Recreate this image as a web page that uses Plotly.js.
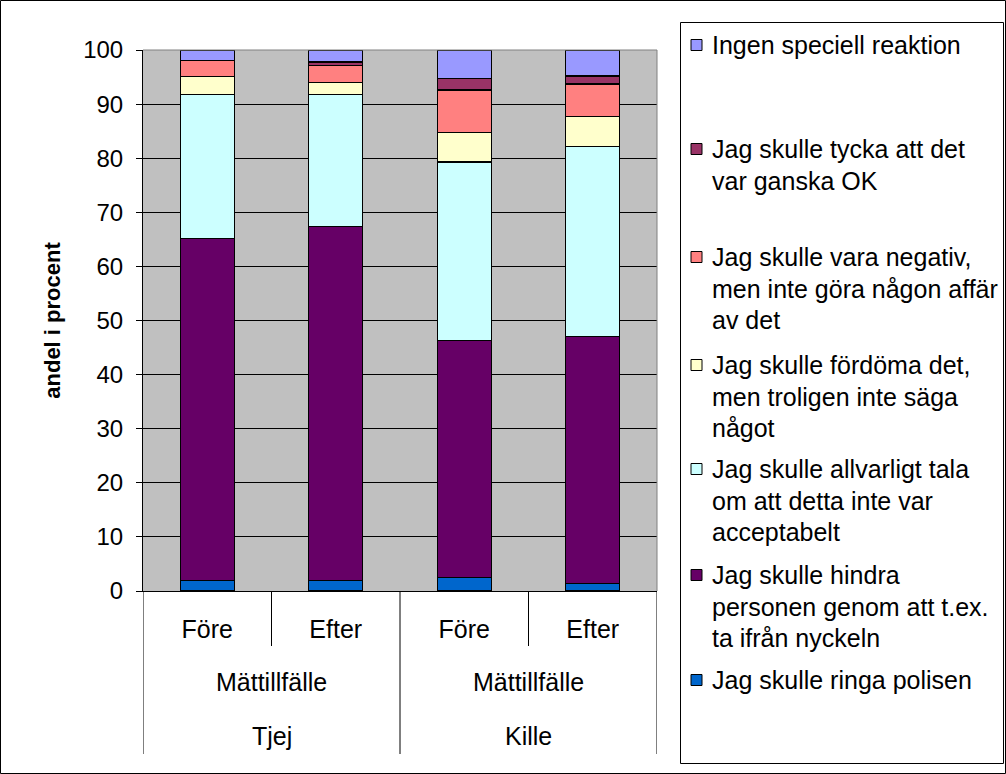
<!DOCTYPE html>
<html>
<head>
<meta charset="utf-8">
<script src="https://cdn.plot.ly/plotly-3.0.1.min.js"></script>
<style>
  html, body { margin: 0; padding: 0; background: #ffffff; }
  #chart { width: 1006px; height: 774px; }
</style>
</head>
<body>
<div id="chart"></div>
<script>
// Category levels (bottom table)
const timeLabels = ['Före', 'Efter', 'Före', 'Efter'];
const measureLabels = ['Mättillfälle', 'Mättillfälle'];
const genderLabels = ['Tjej', 'Kille'];

// Series, bottom to top of each stack (percent)
const ringaPolisen = [2.0, 2.0, 2.5, 1.4];
const hindraPersonen = [63.2, 65.4, 43.8, 45.6];
const allvarligtTala = [26.6, 24.4, 33.0, 35.1];
const fordoma = [3.3, 2.2, 5.5, 5.6];
const negativ = [3.0, 3.2, 7.8, 6.0];
const ganskaOK = [0.0, 0.6, 2.2, 1.5];
const ingenReaktion = [1.9, 2.2, 5.2, 4.8];

const seriesNames = [
    'Jag skulle ringa polisen',
    'Jag skulle hindra\npersonen genom att t.ex.\nta ifrån nyckeln',
    'Jag skulle allvarligt tala\nom att detta inte var\nacceptabelt',
    'Jag skulle fördöma det,\nmen troligen inte säga\nnågot',
    'Jag skulle vara negativ,\nmen inte göra någon affär\nav det',
    'Jag skulle tycka att det\nvar ganska OK',
    'Ingen speciell reaktion'
];
const seriesValues = [ringaPolisen, hindraPersonen, allvarligtTala, fordoma, negativ, ganskaOK, ingenReaktion];
const seriesColors = ['#0066CC', '#660066', '#CCFFFF', '#FFFFCC', '#FF8080', '#993366', '#9999FF'];

const FONT = 'Liberation Sans, Arial, sans-serif';

// plot area in pixels
const PL = 143, PR = 657, PT = 50, PB = 591;
const W = 1006, H = 774;
const px2x = (px) => (px - PL) / (PR - PL);
const py2y = (py) => (PB - py) / (PB - PT);

const xs = timeLabels.map((_, i) => i);

const traces = seriesValues.map((vals, i) => ({
    type: 'bar',
    x: xs,
    y: vals,
    name: seriesNames[i],
    width: 0.42,
    marker: { color: seriesColors[i], line: { color: '#000000', width: 1.2 } },
    showlegend: false,
    hoverinfo: 'y+name'
}));

const shapes = [];
const annotations = [];

// outer chart border
shapes.push({ type: 'rect', xref: 'paper', yref: 'paper',
    x0: px2x(0.5), x1: px2x(W - 0.5), y0: py2y(H - 0.5), y1: py2y(0.5),
    line: { color: '#000000', width: 1 } });

// plot area top/right border (grey)
shapes.push({ type: 'line', xref: 'paper', yref: 'paper', x0: 0, x1: 1, y0: 1, y1: 1,
    line: { color: '#808080', width: 1 } });
shapes.push({ type: 'line', xref: 'paper', yref: 'paper', x0: 1, x1: 1, y0: 0, y1: 1,
    line: { color: '#808080', width: 1 } });

// category table dividers
const innerBottom = py2y(646), outerBottom = py2y(754);
for (let k = 0; k <= timeLabels.length; k++) {
    const full = (k % 2 === 0);
    shapes.push({ type: 'line', xref: 'x', yref: 'paper',
        x0: k - 0.5, x1: k - 0.5, y0: 0, y1: full ? outerBottom : innerBottom,
        line: { color: '#000000', width: 1 } });
}

// Mättillfälle and Tjej/Kille rows
measureLabels.forEach((t, g) => {
    annotations.push({ xref: 'x', yref: 'paper', x: g * 2 + 0.5, y: py2y(682),
        text: t, showarrow: false, font: { family: FONT, size: 25, color: '#000' },
        xanchor: 'center', yanchor: 'middle' });
});
genderLabels.forEach((t, g) => {
    annotations.push({ xref: 'x', yref: 'paper', x: g * 2 + 0.5, y: py2y(736),
        text: t, showarrow: false, font: { family: FONT, size: 25, color: '#000' },
        xanchor: 'center', yanchor: 'middle' });
});

// legend box
shapes.push({ type: 'rect', xref: 'paper', yref: 'paper',
    x0: px2x(680.5), x1: px2x(1003.5), y0: py2y(763.5), y1: py2y(22.5),
    line: { color: '#000000', width: 1 }, fillcolor: '#ffffff' });

// legend entries (top entry = last series)
const legendTops = [45, 149, 257, 365, 469, 575, 680];
const lineStep = 31.5;
for (let j = 0; j < seriesNames.length; j++) {
    const s = seriesNames.length - 1 - j;
    const cy = legendTops[j];
    shapes.push({ type: 'rect', xref: 'paper', yref: 'paper',
        x0: px2x(691), x1: px2x(702), y0: py2y(cy + 5.5), y1: py2y(cy - 5.5),
        line: { color: '#000000', width: 1 }, fillcolor: seriesColors[s] });
    seriesNames[s].split('\n').forEach((line, li) => {
        annotations.push({ xref: 'paper', yref: 'paper',
            x: px2x(710), y: py2y(cy + li * lineStep),
            text: line, showarrow: false, xanchor: 'left', yanchor: 'middle',
            font: { family: FONT, size: 25, color: '#000' } });
    });
}

const layout = {
    width: W,
    height: H,
    barmode: 'stack',
    paper_bgcolor: '#ffffff',
    plot_bgcolor: '#C0C0C0',
    margin: { l: PL, r: W - PR, t: PT, b: H - PB, pad: 0 },
    showlegend: false,
    font: { family: FONT, size: 24, color: '#000000' },
    xaxis: {
        range: [-0.5, timeLabels.length - 0.5],
        tickvals: xs,
        ticktext: timeLabels,
        ticks: '',
        showgrid: false,
        zeroline: false,
        showline: true,
        linecolor: '#000000',
        linewidth: 1,
        ticklabelstandoff: 16,
        tickfont: { family: FONT, size: 25, color: '#000' },
        fixedrange: true
    },
    yaxis: {
        range: [0, 100],
        dtick: 10,
        ticks: 'outside',
        ticklen: 6,
        tickcolor: '#000000',
        showgrid: true,
        gridcolor: '#000000',
        gridwidth: 1,
        zeroline: false,
        showline: true,
        linecolor: '#000000',
        linewidth: 1,
        tickfont: { family: FONT, size: 24, color: '#000' },
        ticklabelstandoff: 8,
        title: {
            text: 'andel i procent',
            font: { family: FONT, size: 22, color: '#000', weight: 'bold' },
            standoff: 16
        },
        fixedrange: true
    },
    shapes: shapes,
    annotations: annotations
};

Plotly.newPlot('chart', traces, layout, { displayModeBar: false, staticPlot: true });
</script>
</body>
</html>
